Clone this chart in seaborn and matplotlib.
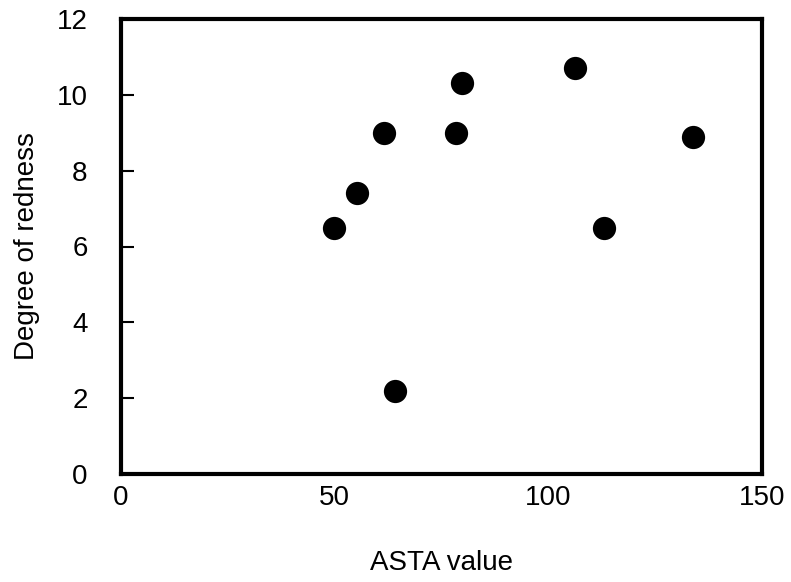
import matplotlib
matplotlib.use("Agg")
import matplotlib.pyplot as plt
import seaborn as sns
import pandas as pd

# ASTA value vs. degree of redness
asta_value = [49.8, 55.3, 61.5, 64.2, 78.4, 79.8, 106.3, 113.1, 133.8]
redness = [6.5, 7.4, 9.0, 2.2, 9.0, 10.3, 10.7, 6.5, 8.9]

df = pd.DataFrame({"ASTA value": asta_value, "Degree of redness": redness})

sns.set_style("white", {"axes.axisbelow": False})
plt.rcParams["font.family"] = ["Liberation Sans", "DejaVu Sans"]
plt.rcParams["text.color"] = "black"
plt.rcParams["axes.labelcolor"] = "black"

fig = plt.figure(figsize=(7.91, 5.82), dpi=100)
ax = fig.add_axes([121 / 791, 1 - 474 / 582, (762 - 121) / 791, (474 - 19) / 582])

sns.scatterplot(data=df, x="ASTA value", y="Degree of redness", ax=ax,
                color="black", s=280, linewidth=0, zorder=3)

ax.set_xlim(0, 150)
ax.set_ylim(0, 12)
ax.set_xticks([0, 50, 100, 150])
ax.set_yticks(range(0, 13, 2))
ax.set_axisbelow(False)

# small inward ticks on the y axis only
ax.yaxis.set_tick_params(which="major", left=True, direction="in",
                         length=9, width=1.5, color="black",
                         labelsize=20, labelcolor="black", pad=24)
ax.xaxis.set_tick_params(which="major", bottom=False, length=0,
                         labelsize=20, labelcolor="black", pad=8)
for t in ax.yaxis.get_major_ticks():
    t.tick1line.set_visible(True)
    t.tick1line.set_zorder(6)

for sp in ax.spines.values():
    sp.set_linewidth(3)
    sp.set_color("black")
ax.set_xlabel("ASTA value", fontsize=20, labelpad=28, color="black")
ax.set_ylabel("Degree of redness", fontsize=20, labelpad=12, color="black")

fig.savefig("out.png", dpi=100)
